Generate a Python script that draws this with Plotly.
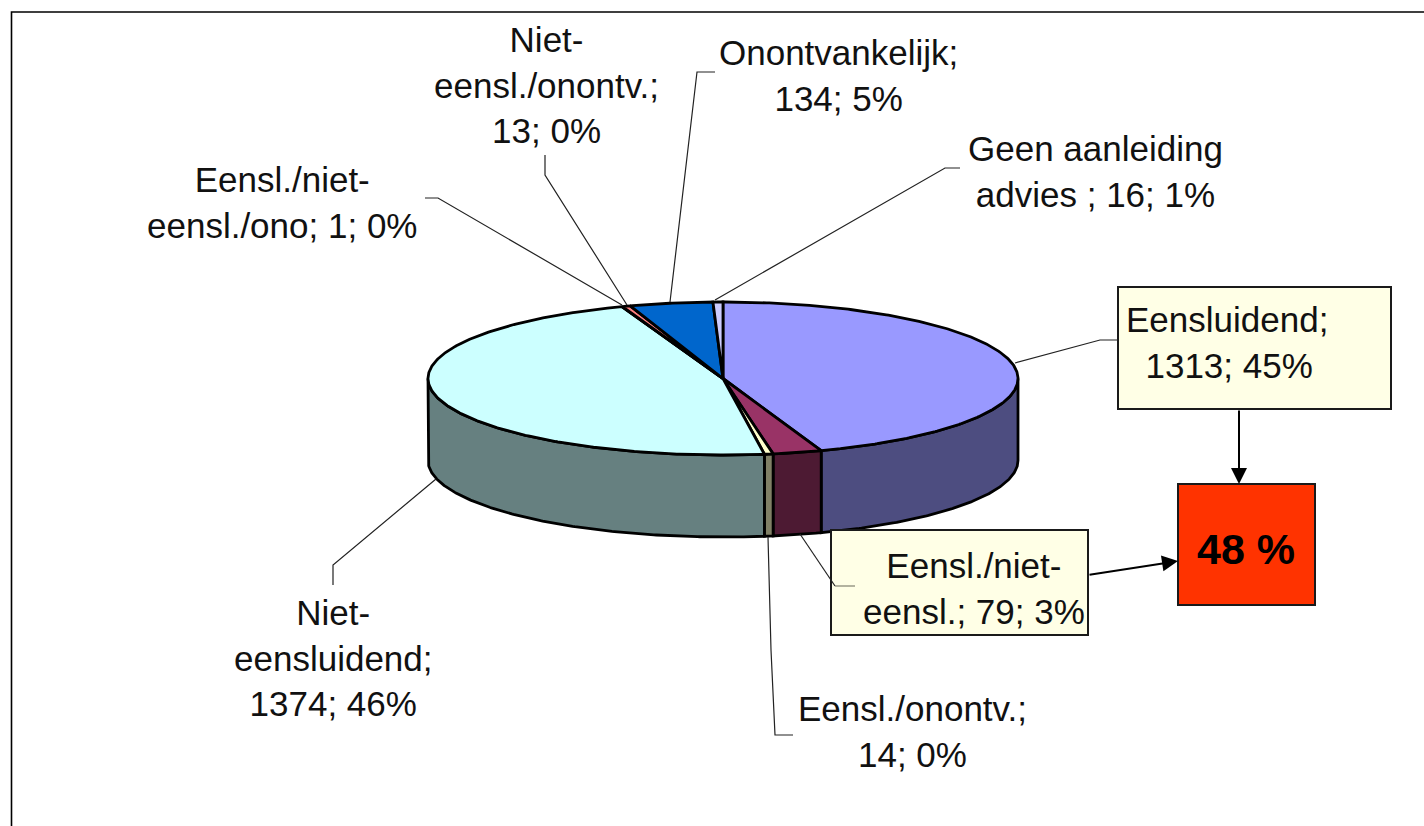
import numpy as np
import plotly.graph_objects as go

# ---- data ----
categories = ["Eensluidend", "Eensl./niet-eensl.", "Eensl./onontv.", "Niet-eensluidend",
              "Eensl./niet-eensl./ono", "Niet-eensl./onontv.", "Onontvankelijk", "Geen aanleiding advies"]
values = [1313, 79, 14, 1374, 1, 13, 134, 16]
top_colors = ["#9999FF", "#993366", "#FFFFCC", "#CCFFFF", "#FF8080", "#FF8080", "#0066CC", "#CCCCFF"]
side_colors = ["#4D4D80", "#4D1A33", "#808066", "#668080"]
highlight = "48 %"

# ---- geometry of the drawing ----
W, H = 1424, 826
CX, CY, RX, RY, DEPTH = 723, 378.5, 295, 76.5, 82
FONT = "Liberation Sans, Arial, sans-serif"
FS = 35

def ell(t_deg, dy=0.0):
    t = np.radians(np.asarray(t_deg, dtype=float))
    return CX + RX * np.sin(t), CY - RY * np.cos(t) + dy

edges = np.concatenate([[0], np.cumsum(values)]) / sum(values) * 360
fig = go.Figure()

def poly(x, y, color):
    fig.add_trace(go.Scatter(x=list(x), y=list(y), mode="lines", fill="toself", fillcolor=color,
                             line=dict(color="black", width=2.8), hoverinfo="skip", showlegend=False))

# side walls (front half of the disc only)
for i in range(len(values)):
    a, b = max(edges[i], 90), min(edges[i + 1], 270)
    if b <= a:
        continue
    ts = np.linspace(a, b, max(2, int((b - a) * 2)))
    x1, y1 = ell(ts)
    x2, y2 = ell(ts[::-1], DEPTH)
    poly(np.r_[x1, x2, x1[0]], np.r_[y1, y2, y1[0]], side_colors[i])

# top face
for i in range(len(values)):
    ts = np.linspace(edges[i], edges[i + 1], max(2, int((edges[i + 1] - edges[i]) * 2)))
    x, y = ell(ts)
    poly(np.r_[CX, x, CX], np.r_[CY, y, CY], top_colors[i])

shapes = []
def rect(x0, y0, x1, y1, fill):
    shapes.append(dict(type="rect", xref="x", yref="y", x0=x0, y0=y0, x1=x1, y1=y1, fillcolor=fill,
                       line=dict(color="#1a1a1a", width=2)))
def path(pts, color="#222222", width=1.2):
    d = "M" + " L".join(f"{a},{b}" for a, b in pts)
    shapes.append(dict(type="path", xref="x", yref="y", path=d, line=dict(color=color, width=width)))

# frame (open at right and bottom)
path([(11.5, 826), (11.5, 12), (1424, 12)], "black", 1.6)
# call-out boxes
rect(1118, 287, 1391, 409, "#FFFFE6")
rect(831, 530, 1088, 635, "#FFFFE6")
rect(1178, 484, 1315, 605, "#FF3300")
# leader lines
path([(1015, 363), (1100, 340), (1118, 340)])
path([(800, 534), (835, 586)])
path([(835, 586), (855, 586)], "#808070", 1.2)
path([(768, 537), (771, 650), (775, 735), (793, 735)])
path([(436, 479), (333, 565), (333, 585)])
path([(715, 300), (945, 168), (960, 168)])
path([(670, 302), (697, 72), (715, 72)])
path([(627, 305), (545, 175), (545, 155)])
path([(622, 305), (438, 198), (425, 198)])

def label(x, y, text, anchor="center", align="center", size=FS, color="#111111"):
    return dict(x=x, y=y, xref="x", yref="y", text=text, showarrow=False, xanchor=anchor, yanchor="middle",
                align=align, font=dict(family=FONT, size=size, color=color))

annotations = [
    label(546, 85, "Niet-<br>eensl./onontv.;<br>13; 0%"),
    label(838, 75, "Onontvankelijk;<br>134; 5%"),
    label(1095, 171, "Geen aanleiding<br>advies ; 16; 1%"),
    label(282, 202, "Eensl./niet-<br>eensl./ono; 1; 0%"),
    label(1124, 342, "Eensluidend;<br>\u00a0\u00a01313; 45%", anchor="left", align="left"),
    label(974, 588, "Eensl./niet-<br>eensl.; 79; 3%"),
    label(912, 731, "Eensl./onontv.;<br>14; 0%"),
    label(333, 658, "Niet-<br>eensluidend;<br>1374; 46%"),
    label(1246, 549, f"<b>{highlight}</b>", size=43, color="black"),
    dict(x=1239, y=484, ax=1239, ay=409, xref="x", yref="y", axref="x", ayref="y", text="", showarrow=True,
         arrowhead=2, arrowsize=1.6, arrowwidth=2, arrowcolor="black"),
    dict(x=1178, y=561, ax=1088, ay=575, xref="x", yref="y", axref="x", ayref="y", text="", showarrow=True,
         arrowhead=2, arrowsize=1.6, arrowwidth=2, arrowcolor="black"),
]

fig.update_layout(
    width=W, height=H, margin=dict(l=0, r=0, t=0, b=0), paper_bgcolor="white", plot_bgcolor="white",
    xaxis=dict(range=[0, W], visible=False, fixedrange=True),
    yaxis=dict(range=[H, 0], visible=False, fixedrange=True),
    shapes=shapes, annotations=annotations, showlegend=False,
)
fig.write_html("out.html", config=dict(displayModeBar=False),
               post_script="document.body.style.margin='0';document.body.style.overflow='hidden';")
